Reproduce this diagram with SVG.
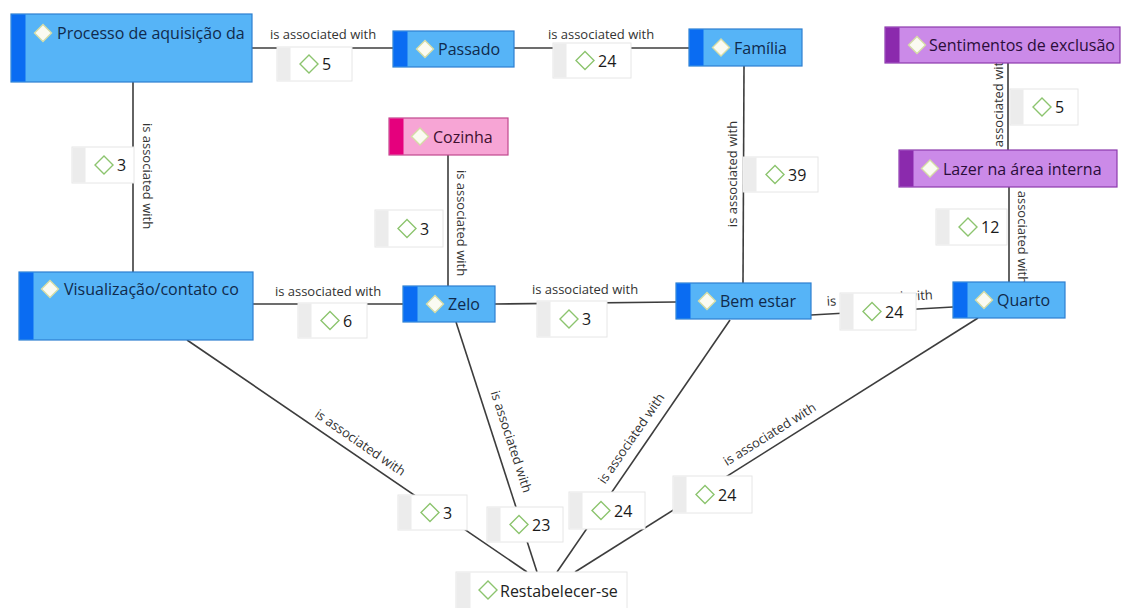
<svg xmlns="http://www.w3.org/2000/svg" xmlns:xlink="http://www.w3.org/1999/xlink" width="1122" height="608" viewBox="0 0 1122 608">
<style>
.bg{fill:#ffffff}
.ln{stroke:#3d3d3d;stroke-width:1.6;fill:none}
.al{font-family:"Open Sans","Noto Sans",sans-serif;font-size:13px;fill:#333333;text-anchor:middle}
.bx{fill:#ffffff;stroke:#e6e6e6;stroke-width:1}
.bs{fill:#ececec}
.num{font-family:"Open Sans","Noto Sans",sans-serif;font-size:16px;fill:#1a1a1a}
.nt{font-family:"Open Sans","Noto Sans",sans-serif;font-size:16px}
.blue .b{fill:#56b4f7;stroke:#2e7fd0;stroke-width:1.2}
.blue .s{fill:#0a6cf2}
.blue .nt{fill:#102a4c}
.pink .b{fill:#f7a5d5;stroke:#c0488e;stroke-width:1.2}
.pink .s{fill:#e5007d}
.pink .nt{fill:#401030}
.purp .b{fill:#cb8ae8;stroke:#8c3aac;stroke-width:1.2}
.purp .s{fill:#8b2aad}
.purp .nt{fill:#2a0d3a}
.wht .b{fill:#ffffff;stroke:#e6e6e6;stroke-width:1}
.wht .s{fill:#ececec}
.wht .nt{fill:#222222}
</style>
<defs>
<path id="dl" d="M0,-9 L9,0 L0,9 L-9,0 Z" fill="#ffffff" stroke="#8cc46e" stroke-width="1.4"/>
<path id="dn" d="M0,-8.5 L8.5,0 L0,8.5 L-8.5,0 Z" fill="#fbfbf2" stroke="#d5dca6" stroke-width="1.4"/>
<clipPath id="cp1"><rect x="11" y="14" width="235" height="68"/></clipPath>
<clipPath id="cp7"><rect x="19" y="272" width="228" height="68"/></clipPath>
</defs>
<rect class="bg" x="0" y="0" width="1122" height="608"/>

<g id="connectors">
<line class="ln" x1="252" y1="48" x2="393" y2="48"/>
<line class="ln" x1="514" y1="48" x2="689" y2="48"/>
<line class="ln" x1="133" y1="82" x2="133" y2="272"/>
<line class="ln" x1="744" y1="66" x2="743" y2="283"/>
<line class="ln" x1="448" y1="155" x2="448" y2="286"/>
<line class="ln" x1="1008" y1="63" x2="1008" y2="150"/>
<line class="ln" x1="1009" y1="187" x2="1009" y2="282"/>
<line class="ln" x1="253" y1="304" x2="403" y2="304"/>
<line class="ln" x1="495" y1="304" x2="676" y2="302"/>
<line class="ln" x1="811" y1="315" x2="953" y2="307"/>
<line class="ln" x1="187" y1="340" x2="527" y2="572"/>
<line class="ln" x1="456" y1="322" x2="537" y2="572"/>
<line class="ln" x1="730" y1="320" x2="557" y2="572"/>
<line class="ln" x1="978" y1="318" x2="575" y2="572"/>

<text class="al" x="323" y="39">is associated with</text>
<text class="al" x="601" y="39">is associated with</text>
<text class="al" x="328" y="296">is associated with</text>
<text class="al" x="585" y="294">is associated with</text>
<text class="al" transform="translate(880,302.5) rotate(-3.6)">is associated with</text>
<text class="al" transform="translate(142.5,176) rotate(90)">is associated with</text>
<text class="al" transform="translate(737,174) rotate(-90)">is associated with</text>
<text class="al" transform="translate(457,223) rotate(90)">is associated with</text>
<text class="al" transform="translate(1003,107) rotate(-90)">is associated with</text>
<text class="al" transform="translate(1018,231) rotate(90)">is associated with</text>
<text class="al" transform="translate(357.7,446.3) rotate(34.5)">is associated with</text>
<text class="al" transform="translate(507,443) rotate(72)">is associated with</text>
<text class="al" transform="translate(635,441) rotate(-55.5)">is associated with</text>
<text class="al" transform="translate(772,438) rotate(-32.2)">is associated with</text>

<g id="lbl-5a"><rect class="bx" x="277" y="47" width="75" height="34"/><rect class="bs" x="277.5" y="47.5" width="13" height="33"/><use xlink:href="#dl" x="309" y="64"/><text class="num" x="322" y="70">5</text></g>
<g id="lbl-24a"><rect class="bx" x="553" y="43" width="78" height="35"/><rect class="bs" x="553.5" y="43.5" width="13" height="34"/><use xlink:href="#dl" x="585" y="60.5"/><text class="num" x="598" y="66.5">24</text></g>
<g id="lbl-3a"><rect class="bx" x="72" y="147" width="62" height="36"/><rect class="bs" x="72.5" y="147.5" width="13" height="35"/><use xlink:href="#dl" x="104" y="165"/><text class="num" x="117" y="171">3</text></g>
<g id="lbl-39"><rect class="bx" x="743" y="157" width="75" height="35"/><rect class="bs" x="743.5" y="157.5" width="13" height="34"/><use xlink:href="#dl" x="775" y="174.5"/><text class="num" x="788" y="180.5">39</text></g>
<g id="lbl-5b"><rect class="bx" x="1010" y="89" width="68" height="36"/><rect class="bs" x="1010.5" y="89.5" width="13" height="35"/><use xlink:href="#dl" x="1042" y="107"/><text class="num" x="1055" y="113">5</text></g>
<g id="lbl-12"><rect class="bx" x="936" y="209" width="71" height="36"/><rect class="bs" x="936.5" y="209.5" width="13" height="35"/><use xlink:href="#dl" x="968" y="227"/><text class="num" x="981" y="233">12</text></g>
<g id="lbl-3b"><rect class="bx" x="375" y="210" width="68" height="37"/><rect class="bs" x="375.5" y="210.5" width="13" height="36"/><use xlink:href="#dl" x="407" y="228.5"/><text class="num" x="420" y="234.5">3</text></g>
<g id="lbl-6"><rect class="bx" x="298" y="303" width="69" height="35"/><rect class="bs" x="298.5" y="303.5" width="13" height="34"/><use xlink:href="#dl" x="330" y="320.5"/><text class="num" x="343" y="326.5">6</text></g>
<g id="lbl-3c"><rect class="bx" x="537" y="301" width="70" height="36"/><rect class="bs" x="537.5" y="301.5" width="13" height="35"/><use xlink:href="#dl" x="569" y="319"/><text class="num" x="582" y="325">3</text></g>
<g id="lbl-24b"><rect class="bx" x="840" y="293" width="76" height="37"/><rect class="bs" x="840.5" y="293.5" width="13" height="36"/><use xlink:href="#dl" x="872" y="311.5"/><text class="num" x="885" y="317.5">24</text></g>
<g id="lbl-3d"><rect class="bx" x="398" y="495" width="69" height="35"/><rect class="bs" x="398.5" y="495.5" width="13" height="34"/><use xlink:href="#dl" x="430" y="512.5"/><text class="num" x="443" y="518.5">3</text></g>
<g id="lbl-23"><rect class="bx" x="487" y="507" width="76" height="35"/><rect class="bs" x="487.5" y="507.5" width="13" height="34"/><use xlink:href="#dl" x="519" y="524.5"/><text class="num" x="532" y="530.5">23</text></g>
<g id="lbl-24c"><rect class="bx" x="569" y="492" width="76" height="37"/><rect class="bs" x="569.5" y="492.5" width="13" height="36"/><use xlink:href="#dl" x="601" y="510.5"/><text class="num" x="614" y="516.5">24</text></g>
<g id="lbl-24d"><rect class="bx" x="673" y="476" width="79" height="37"/><rect class="bs" x="673.5" y="476.5" width="13" height="36"/><use xlink:href="#dl" x="705" y="494.5"/><text class="num" x="718" y="500.5">24</text></g>
</g>

<g id="node-processo" class="blue"><rect class="b" x="11" y="14" width="241" height="68"/><rect class="s" x="11.5" y="14.5" width="14" height="67"/><use xlink:href="#dn" x="43" y="33"/><text class="nt" x="57" y="39" clip-path="url(#cp1)">Processo de aquisição da</text></g>
<g id="node-passado" class="blue"><rect class="b" x="393" y="31" width="121" height="36"/><rect class="s" x="393.5" y="31.5" width="14" height="35"/><use xlink:href="#dn" x="425" y="49"/><text class="nt" x="438" y="55">Passado</text></g>
<g id="node-familia" class="blue"><rect class="b" x="689" y="29" width="113" height="37"/><rect class="s" x="689.5" y="29.5" width="14" height="36"/><use xlink:href="#dn" x="721" y="47.5"/><text class="nt" x="734" y="53.5">Família</text></g>
<g id="node-sentimentos" class="purp"><rect class="b" x="885" y="27" width="235" height="36"/><rect class="s" x="885.5" y="27.5" width="14" height="35"/><use xlink:href="#dn" x="917" y="45"/><text class="nt" x="929" y="51">Sentimentos de exclusão</text></g>
<g id="node-cozinha" class="pink"><rect class="b" x="389" y="118" width="119" height="37"/><rect class="s" x="389.5" y="118.5" width="14" height="36"/><use xlink:href="#dn" x="420" y="136.5"/><text class="nt" x="433" y="142.5">Cozinha</text></g>
<g id="node-lazer" class="purp"><rect class="b" x="899" y="150" width="218" height="37"/><rect class="s" x="899.5" y="150.5" width="14" height="36"/><use xlink:href="#dn" x="930" y="168.5"/><text class="nt" x="943" y="174.5">Lazer na área interna</text></g>
<g id="node-visualizacao" class="blue"><rect class="b" x="19" y="272" width="234" height="68"/><rect class="s" x="19.5" y="272.5" width="14" height="67"/><use xlink:href="#dn" x="50" y="289"/><text class="nt" x="64" y="295" clip-path="url(#cp7)">Visualização/contato co</text></g>
<g id="node-zelo" class="blue"><rect class="b" x="403" y="286" width="92" height="36"/><rect class="s" x="403.5" y="286.5" width="14" height="35"/><use xlink:href="#dn" x="435" y="304"/><text class="nt" x="448" y="310">Zelo</text></g>
<g id="node-bemestar" class="blue"><rect class="b" x="676" y="283" width="135" height="36"/><rect class="s" x="676.5" y="283.5" width="14" height="35"/><use xlink:href="#dn" x="707" y="301"/><text class="nt" x="720" y="307">Bem estar</text></g>
<g id="node-quarto" class="blue"><rect class="b" x="953" y="282" width="112" height="36"/><rect class="s" x="953.5" y="282.5" width="14" height="35"/><use xlink:href="#dn" x="984" y="300"/><text class="nt" x="997" y="306">Quarto</text></g>
<g id="node-restabelecer" class="wht"><rect class="b" x="456" y="572" width="171" height="38"/><rect class="s" x="456.5" y="572.5" width="14" height="37"/><use xlink:href="#dl" x="488" y="590"/><text class="nt" x="500" y="597">Restabelecer-se</text></g>
</svg>
